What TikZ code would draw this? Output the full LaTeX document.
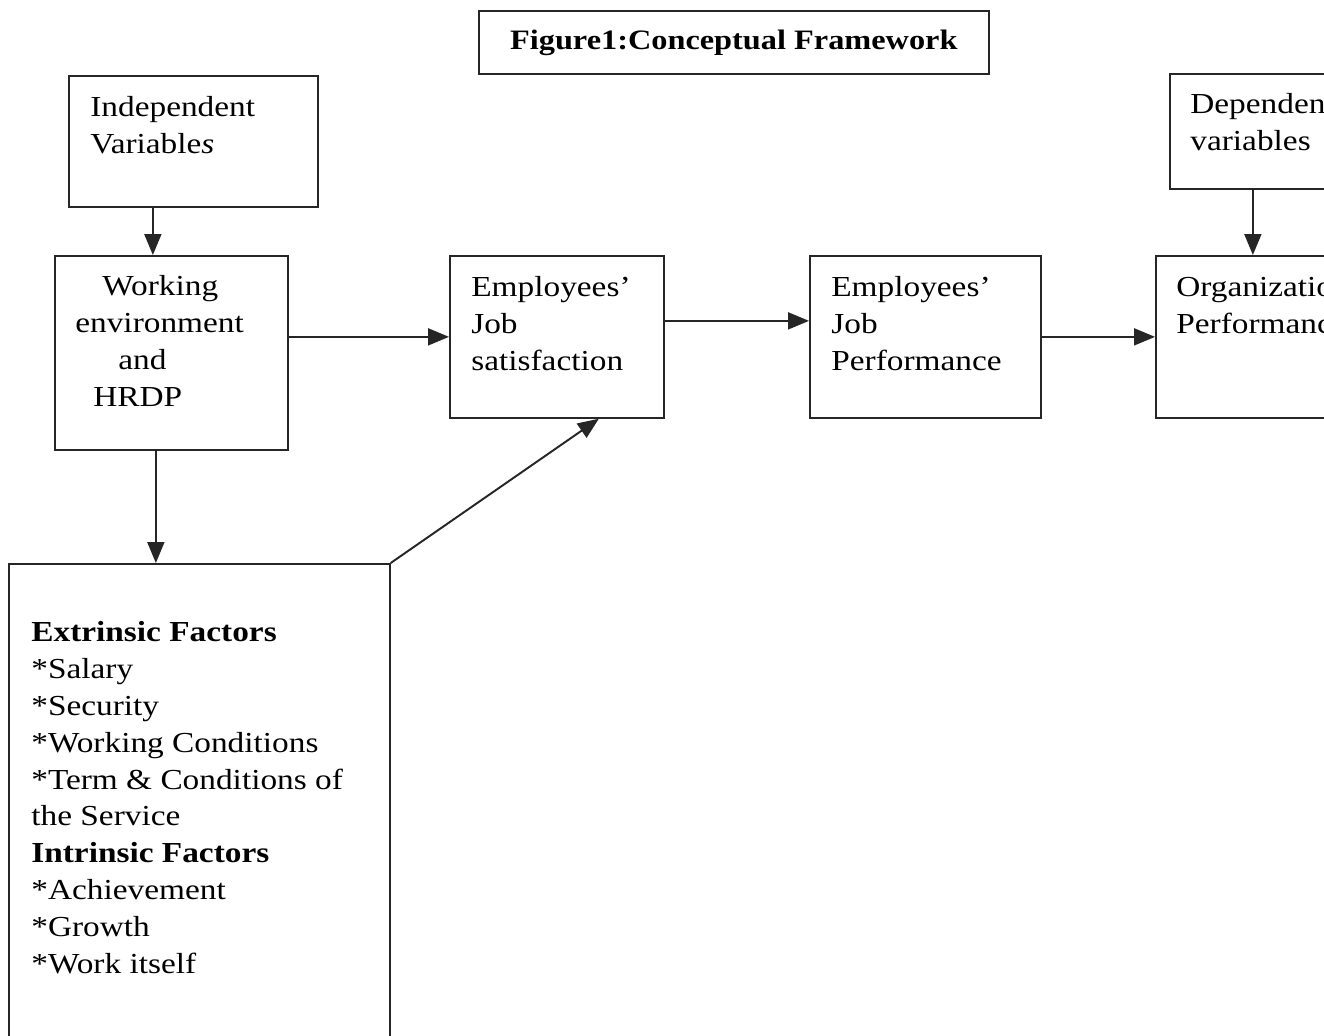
\documentclass[tikz,border=0pt]{standalone}
\usepackage{fontspec}
\setmainfont{Liberation Serif}[FakeStretch=1.15]
\usepackage{tikz}
\usetikzlibrary{calc}
\usetikzlibrary{arrows.meta}
\usetikzlibrary{positioning}

\tikzset{
  box/.style={draw=black!85, line width=1pt, rectangle, anchor=north west, inner sep=0pt},
  txt/.style={anchor=north west, inner sep=0pt, align=left, text=black, font=\fontsize{16.5}{21}\selectfont},
  arr/.style={draw=black!85, line width=1.1pt, -{Triangle[length=0.42cm,width=0.34cm]}}
}

\begin{document}
\begin{tikzpicture}[x=0.02cm, y=-0.02cm]
\useasboundingbox (0,0) rectangle (1324,1035);
\clip (0,0) rectangle (1324,1035);
\fill[white] (0,0) rectangle (1324,1035);

% boxes
\node[box, minimum width=10.2cm, minimum height=1.26cm, text=black, font=\fontsize{16}{21}\selectfont\bfseries] (title) at (478,10) {Figure1:Conceptual Framework};
\node[box, minimum width=4.98cm, minimum height=2.62cm] (indep) at (68,75) {};
\node[box, minimum width=3.32cm, minimum height=2.3cm] (dep) at (1169,73) {};
\node[box, minimum width=4.66cm, minimum height=3.88cm] (work) at (54,255) {};
\node[box, minimum width=4.28cm, minimum height=3.24cm] (jobsat) at (449,255) {};
\node[box, minimum width=4.62cm, minimum height=3.24cm] (jobperf) at (809,255) {};
\node[box, minimum width=4.8cm, minimum height=3.24cm] (org) at (1155,255) {};
\node[box, minimum width=7.62cm, minimum height=12cm] (factors) at (8,563) {};

% texts
\node[txt] (indep-txt) at (90,96) {Independent\\Variable{\itshape s}};
\node[txt] (dep-txt) at (1190,93) {Dependent\\variables};
\node[txt] (work-txt) at (75,275) {\hspace*{0.54cm}Working\\environment\\\hspace*{0.86cm}and\\\hspace*{0.36cm}HRDP};
\node[txt] (jobsat-txt) at (471,276) {Employees'\\Job\\satisfaction};
\node[txt] (jobperf-txt) at (831,276) {Employees'\\Job\\Performance};
\node[txt] (org-txt) at (1176,276) {Organizational\\Performance};
\node[txt] (factors-txt) at (31,621) {\textbf{Extrinsic Factors}\\*Salary\\*Security\\*Working Conditions\\*Term \& Conditions of\\the Service\\\textbf{Intrinsic Factors}\\*Achievement\\*Growth\\*Work itself};

% arrows
\path ([xshift=-0.37cm]work.north) coordinate (wn);
\path ([xshift=-0.31cm]work.south) coordinate (ws);
\draw[arr] (wn |- indep.south) -- (wn);
\draw[arr] (ws) -- (ws |- factors.north);
\draw[arr] (work.east |- jobsat.west) -- (jobsat.west);
\draw[arr] ([yshift=0.32cm]jobsat.east) -- ([yshift=0.32cm]jobperf.west);
\draw[arr] (jobperf.east) -- (org.west);
\draw[arr] (dep.south) -- (dep.south |- org.north);
\draw[arr] (factors.north east) -- ([xshift=0.84cm]jobsat.south);
\end{tikzpicture}
\end{document}
